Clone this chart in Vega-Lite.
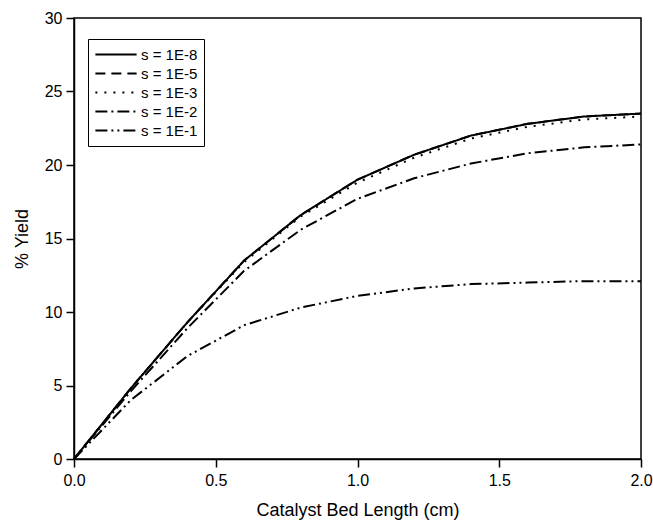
{
  "$schema": "https://vega.github.io/schema/vega-lite/v6.json",
  "width": 567,
  "height": 441,
  "autosize": {"type": "none"},
  "padding": {"left": 74, "top": 18, "right": 12, "bottom": 63},
  "background": "white",
  "config": {
    "font": "Liberation Sans",
    "view": {"stroke": "black", "strokeWidth": 1.5},
    "axis": {
      "domainColor": "black",
      "domainWidth": 1.5,
      "tickColor": "black",
      "tickWidth": 1.5,
      "tickSize": 8,
      "labelColor": "black",
      "labelFontSize": 16,
      "labelFlush": false,
      "titleColor": "black",
      "titleFontSize": 18,
      "titleFontWeight": "normal",
      "grid": false
    }
  },
  "data": {
    "values": [
      {"s": "s = 1E-8", "L": 0.0, "y": 0.0},
      {"s": "s = 1E-8", "L": 0.2, "y": 4.8},
      {"s": "s = 1E-8", "L": 0.4, "y": 9.3},
      {"s": "s = 1E-8", "L": 0.6, "y": 13.5},
      {"s": "s = 1E-8", "L": 0.8, "y": 16.6},
      {"s": "s = 1E-8", "L": 1.0, "y": 19.0},
      {"s": "s = 1E-8", "L": 1.2, "y": 20.7},
      {"s": "s = 1E-8", "L": 1.4, "y": 22.0},
      {"s": "s = 1E-8", "L": 1.6, "y": 22.8},
      {"s": "s = 1E-8", "L": 1.8, "y": 23.3},
      {"s": "s = 1E-8", "L": 2.0, "y": 23.5},
      {"s": "s = 1E-5", "L": 0.0, "y": 0.0},
      {"s": "s = 1E-5", "L": 0.2, "y": 4.8},
      {"s": "s = 1E-5", "L": 0.4, "y": 9.3},
      {"s": "s = 1E-5", "L": 0.6, "y": 13.5},
      {"s": "s = 1E-5", "L": 0.8, "y": 16.6},
      {"s": "s = 1E-5", "L": 1.0, "y": 19.0},
      {"s": "s = 1E-5", "L": 1.2, "y": 20.7},
      {"s": "s = 1E-5", "L": 1.4, "y": 22.0},
      {"s": "s = 1E-5", "L": 1.6, "y": 22.8},
      {"s": "s = 1E-5", "L": 1.8, "y": 23.3},
      {"s": "s = 1E-5", "L": 2.0, "y": 23.5},
      {"s": "s = 1E-3", "L": 0.0, "y": 0.0},
      {"s": "s = 1E-3", "L": 0.2, "y": 4.8},
      {"s": "s = 1E-3", "L": 0.4, "y": 9.3},
      {"s": "s = 1E-3", "L": 0.6, "y": 13.4},
      {"s": "s = 1E-3", "L": 0.8, "y": 16.5},
      {"s": "s = 1E-3", "L": 1.0, "y": 18.8},
      {"s": "s = 1E-3", "L": 1.2, "y": 20.5},
      {"s": "s = 1E-3", "L": 1.4, "y": 21.8},
      {"s": "s = 1E-3", "L": 1.6, "y": 22.6},
      {"s": "s = 1E-3", "L": 1.8, "y": 23.1},
      {"s": "s = 1E-3", "L": 2.0, "y": 23.3},
      {"s": "s = 1E-2", "L": 0.0, "y": 0.0},
      {"s": "s = 1E-2", "L": 0.2, "y": 4.6},
      {"s": "s = 1E-2", "L": 0.4, "y": 8.9},
      {"s": "s = 1E-2", "L": 0.6, "y": 12.8},
      {"s": "s = 1E-2", "L": 0.8, "y": 15.6},
      {"s": "s = 1E-2", "L": 1.0, "y": 17.7},
      {"s": "s = 1E-2", "L": 1.2, "y": 19.1},
      {"s": "s = 1E-2", "L": 1.4, "y": 20.1},
      {"s": "s = 1E-2", "L": 1.6, "y": 20.8},
      {"s": "s = 1E-2", "L": 1.8, "y": 21.2},
      {"s": "s = 1E-2", "L": 2.0, "y": 21.4},
      {"s": "s = 1E-1", "L": 0.0, "y": 0.0},
      {"s": "s = 1E-1", "L": 0.2, "y": 4.0},
      {"s": "s = 1E-1", "L": 0.4, "y": 7.0},
      {"s": "s = 1E-1", "L": 0.6, "y": 9.1},
      {"s": "s = 1E-1", "L": 0.8, "y": 10.3},
      {"s": "s = 1E-1", "L": 1.0, "y": 11.1},
      {"s": "s = 1E-1", "L": 1.2, "y": 11.6},
      {"s": "s = 1E-1", "L": 1.4, "y": 11.9},
      {"s": "s = 1E-1", "L": 1.6, "y": 12.0},
      {"s": "s = 1E-1", "L": 1.8, "y": 12.1},
      {"s": "s = 1E-1", "L": 2.0, "y": 12.1}
    ]
  },
  "mark": {"type": "line", "color": "black", "strokeWidth": 2},
  "encoding": {
    "x": {
      "field": "L",
      "type": "quantitative",
      "title": "Catalyst Bed Length (cm)",
      "scale": {"domain": [0, 2], "nice": false},
      "axis": {"values": [0, 0.5, 1, 1.5, 2], "format": ".1f", "labelPadding": 5, "titlePadding": 13}
    },
    "y": {
      "field": "y",
      "type": "quantitative",
      "title": "% Yield",
      "scale": {"domain": [0, 30], "nice": false},
      "axis": {"values": [0, 5, 10, 15, 20, 25, 30], "labelPadding": 4, "titlePadding": 13}
    },
    "strokeDash": {
      "field": "s",
      "type": "nominal",
      "title": null,
      "scale": {
        "domain": ["s = 1E-8", "s = 1E-5", "s = 1E-3", "s = 1E-2", "s = 1E-1"],
        "range": [[1, 0], [10, 6], [2, 7], [12, 4, 2, 4], [12, 4, 2, 4, 2, 4]]
      },
      "legend": {
        "orient": "none",
        "legendX": 14,
        "legendY": 21,
        "symbolType": "stroke",
        "symbolSize": 1700,
        "symbolStrokeWidth": 2,
        "symbolStrokeColor": "black",
        "clipHeight": 19,
        "labelFontSize": 15,
        "labelColor": "black",
        "labelOffset": 3,
        "strokeColor": "black",
        "fillColor": "white",
        "padding": 6,
        "rowPadding": 0
      }
    }
  }
}
